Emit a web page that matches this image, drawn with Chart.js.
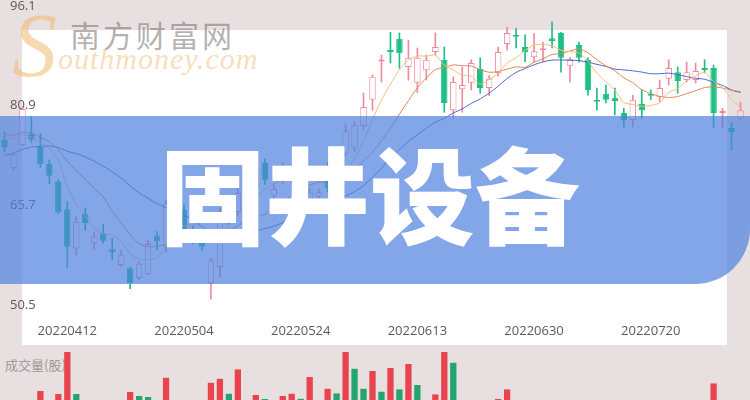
<!DOCTYPE html>
<html lang="zh-CN">
<head>
<meta charset="UTF-8" />
<title>固井设备</title>
<style>
  html, body { margin: 0; padding: 0; }
  body {
    width: 750px; height: 400px; overflow: hidden; position: relative;
    background: #e8dfe0;
    font-family: "Open Sans", "Noto Sans CJK SC", sans-serif;
  }
  #panel { position: absolute; left: 22px; top: 30px; width: 705px; height: 315px; background: #fff; }
  #logoS {
    position: absolute; left: 12px; top: -6px; font: italic 90px "Liberation Serif", serif;
    color: rgba(240, 186, 112, 0.55);
  }
  #logoCn {
    position: absolute; left: 70px; top: 19px; font: 30px/1 "Noto Sans CJK SC", sans-serif;
    letter-spacing: 3px; color: rgba(110, 100, 100, 0.5);
  }
  #logoEn {
    position: absolute; left: 58px; top: 44px; font: italic 30px/1 "Liberation Serif", serif;
    letter-spacing: 1px; color: rgba(244, 200, 140, 0.6);
  }
  #priceBox { position: absolute; left: 0; top: 0; }
  #volLabel {
    position: absolute; left: 5px; top: 358px; font: 13px/1 "Noto Sans CJK SC", sans-serif;
    color: #a09898;
  }
  #volBox { position: absolute; left: 0; top: 345px; }
  #banner {
    position: absolute; left: 0; top: 116px; width: 750px; height: 168px;
    background: rgba(78, 128, 222, 0.7);
    border-bottom-right-radius: 55px;
  }
  #title {
    position: absolute; left: 160px; top: 138px;
    font: 900 105px/1 "Noto Sans CJK SC", sans-serif;
    color: #fff; white-space: nowrap;
  }
</style>
<script src="https://cdn.jsdelivr.net/npm/chart.js"></script>
</head>
<body>
<div id="panel"></div>
<div id="logoS">S</div>
<div id="logoCn">南方财富网</div>
<div id="logoEn">outhmoney.com</div>
<div id="volLabel">成交量(股)</div>
<div id="priceBox"><canvas id="price" width="750" height="345"></canvas></div>
<div id="volBox"><canvas id="vol" width="750" height="55"></canvas></div>
<div id="banner"></div>
<div id="title">固井设备</div>

<script>
  const dates = [
    "20220331","20220401","20220404","20220406","20220407","20220408","20220411","20220412","20220413","20220414",
    "20220419","20220420","20220421","20220422","20220425","20220426","20220427","20220428","20220429","20220503",
    "20220504","20220505","20220506","20220510","20220511","20220512","20220513","20220516","20220517","20220518",
    "20220519","20220520","20220523","20220524","20220525","20220526","20220527","20220530","20220531","20220601",
    "20220602","20220606","20220607","20220608","20220609","20220610","20220613","20220614","20220615","20220616",
    "20220617","20220620","20220621","20220622","20220623","20220624","20220627","20220628","20220629","20220630",
    "20220704","20220705","20220706","20220707","20220708","20220711","20220712","20220713","20220714","20220715",
    "20220718","20220719","20220720","20220721","20220722","20220725","20220726","20220727","20220728","20220729",
    "20220801","20220802","20220803"
  ];
  const xTickDates = ["20220412", "20220504", "20220524", "20220613", "20220630", "20220720"];
  const priceTicks = [50.5, 65.7, 80.9, 96.1];

  const opens = [
    75.7, 71.4, 74.9, 76.6, 74.6, 72.0, 69.3, 65.1, 59.1, 64.4,
    60.0, 61.4, 59.0, 56.6, 56.1, 54.6, 55.2, 61.1, 59.4, 66.5,
    65.0, 61.7, 60.0, 53.8, 56.3, 65.0, 64.7, 66.8, 68.3, 72.2,
    67.2, 69.6, 70.0, 70.8, 66.5, 67.0, 71.5, 68.4, 73.6, 74.5,
    77.8, 81.8, 87.7, 89.35, 91.1, 86.8, 84.4, 86.3, 89.1, 87.9,
    80.2, 83.4, 84.4, 86.5, 83.6, 85.9, 90.3, 91.7, 89.85, 88.3,
    89.4, 91.2, 92.0, 87.0, 90.15, 87.9, 81.8, 82.7, 82.1, 79.8,
    78.7, 81.15, 82.7, 82.2, 85.0, 86.0, 84.8, 84.8, 86.65, 86.65,
    79.9, 77.5, 79.0
  ];
  const highs = [
    76.9, 73.7, 80.7, 79.2, 76.7, 72.6, 69.6, 66.3, 64.0, 65.3,
    61.5, 62.8, 60.7, 58.9, 56.3, 57.1, 60.4, 61.7, 66.5, 67.5,
    65.8, 62.5, 60.5, 57.6, 65.3, 66.3, 68.5, 69.3, 72.0, 72.8,
    68.8, 72.2, 71.8, 71.4, 68.3, 68.2, 72.2, 73.8, 78.1, 78.4,
    82.8, 85.6, 88.6, 92.1, 92.0, 90.9, 89.7, 88.6, 92.0, 89.85,
    85.3, 86.8, 87.9, 88.2, 85.5, 89.85, 92.9, 92.7, 91.7, 91.9,
    90.6, 93.7, 92.1, 88.3, 90.6, 88.2, 83.6, 84.05, 83.6, 80.5,
    82.5, 83.3, 83.3, 84.8, 87.9, 86.8, 87.55, 87.4, 87.9, 87.1,
    80.5, 78.3, 81.45
  ];
  const lows = [
    73.8, 71.1, 74.7, 75.2, 71.5, 69.0, 64.4, 56.2, 58.1, 61.9,
    59.0, 59.9, 57.4, 56.3, 53.0, 54.3, 55.1, 58.9, 58.6, 64.5,
    61.2, 59.8, 58.8, 51.4, 54.8, 62.8, 64.2, 66.2, 67.8, 68.9,
    66.4, 69.0, 69.3, 69.0, 65.8, 66.5, 67.8, 68.0, 73.2, 73.8,
    77.3, 80.2, 84.5, 87.4, 86.6, 84.8, 82.9, 84.8, 88.6, 79.9,
    79.0, 79.9, 83.3, 82.8, 82.4, 85.4, 89.4, 89.7, 87.6, 87.6,
    87.6, 89.7, 86.0, 84.5, 87.55, 82.5, 80.2, 81.3, 79.5, 77.65,
    77.65, 79.0, 81.8, 81.5, 84.05, 82.8, 84.5, 84.35, 85.9, 77.5,
    77.5, 74.1, 78.8
  ];
  const closes = [
    74.6, 73.4, 80.4, 75.7, 72.0, 70.2, 64.7, 59.4, 63.2, 63.0,
    60.9, 60.3, 58.5, 58.1, 53.8, 56.8, 59.8, 60.2, 66.0, 65.2,
    61.7, 60.3, 59.4, 57.3, 64.5, 63.6, 67.6, 68.5, 71.0, 69.6,
    68.2, 71.2, 71.0, 69.6, 67.7, 67.7, 68.4, 73.2, 77.0, 77.9,
    80.7, 85.3, 87.9, 89.1, 88.9, 88.2, 88.2, 87.9, 89.85, 81.3,
    84.5, 84.05, 87.4, 83.6, 85.0, 89.1, 92.0, 91.4, 89.1, 89.2,
    89.6, 90.75, 88.2, 88.0, 88.2, 83.3, 81.5, 81.8, 81.6, 78.7,
    81.8, 80.2, 82.4, 83.6, 86.65, 84.65, 86.0, 86.2, 86.35, 79.8,
    80.0, 76.9, 80.2
  ];
  // closes of the 19 sessions before the first candle, only used to seed the averages
  const histCloses = [68, 68.5, 69, 69.5, 69, 70, 70.5, 70.5, 73, 74, 75, 76, 77, 78, 77.5, 76.5, 77, 77.5, 76.4];

  const volumes = [
    70, 60, 90, 55, 145, 75, 130, 380, 130, 80,
    65, 70, 60, 85, 140, 120, 115, 70, 211, 90,
    85, 60, 75, 186, 206, 131, 253, 95, 125, 105,
    80, 120, 131, 106, 215, 90, 156, 133, 400, 256,
    156, 245, 141, 260, 153, 280, 175, 95, 128, 420,
    286, 90, 85, 80, 70, 105, 153, 75, 60, 55,
    50, 65, 85, 55, 60, 90, 55, 45, 50, 60,
    70, 50, 40, 55, 75, 60, 50, 55, 45, 183,
    90, 95, 70
  ];
  // 1 = red bar, 0 = green bar, as coloured in the volume panel
  const volRed = [
    0, 1, 1, 0, 1, 0, 1, 1, 0, 0,
    1, 0, 0, 1, 1, 0, 0, 0, 1, 0,
    0, 0, 0, 1, 1, 0, 1, 1, 1, 0,
    1, 1, 1, 0, 1, 1, 1, 0, 1, 0,
    0, 1, 0, 1, 0, 1, 0, 1, 1, 1,
    0, 1, 1, 0, 1, 1, 1, 0, 0, 1,
    1, 0, 0, 1, 0, 0, 0, 0, 0, 0,
    1, 0, 0, 1, 1, 0, 1, 1, 0, 1,
    1, 0, 1
  ];

  const PAGE_BG = "#e8dfe0";
  const UP = "#f08a9b";
  const DOWN = "#1dbf83";
  const VOL_UP = "#e8434f";
  const VOL_DOWN = "#25a56e";

  const isUp = (i) => closes[i] >= opens[i];

  function movingAverage(n) {
    const all = histCloses.concat(closes);
    const off = histCloses.length;
    return closes.map((_, i) => {
      const end = i + off;
      let s = 0;
      for (let k = end - n + 1; k <= end; k++) s += all[k];
      return +(s / n).toFixed(3);
    });
  }

  const bodies = opens.map((o, i) => {
    const c = closes[i];
    if (Math.abs(c - o) < 0.3) {
      const m = (o + c) / 2;
      return [m - 0.15, m + 0.15];
    }
    return [o, c];
  });
  const wicks = lows.map((l, i) => [l, highs[i]]);

  const maLine = (label, n, color) => ({
    type: "line",
    label: label,
    data: movingAverage(n),
    borderColor: color,
    borderWidth: 1,
    pointRadius: 0,
    tension: 0.25,
    order: 0,
  });

  new Chart(document.getElementById("price"), {
    type: "bar",
    data: {
      labels: dates,
      datasets: [
        {
          label: "wick",
          data: wicks,
          backgroundColor: (ctx) => (isUp(ctx.dataIndex) ? UP : DOWN),
          barThickness: 1,
          grouped: false,
          order: 2,
        },
        {
          label: "body",
          data: bodies,
          backgroundColor: (ctx) => {
            const i = ctx.dataIndex;
            if (!isUp(i)) return DOWN;
            return i < 2 || i > 80 ? PAGE_BG : "#ffffff";
          },
          borderColor: (ctx) => (isUp(ctx.dataIndex) ? UP : DOWN),
          borderWidth: 1,
          borderSkipped: false,
          barPercentage: 0.72,
          categoryPercentage: 1,
          grouped: false,
          order: 1,
        },
        maLine("MA5", 5, "#f2bf7c"),
        maLine("MA10", 10, "#dd8756"),
        maLine("MA20", 20, "#4b67cf"),
      ],
    },
    options: {
      responsive: false,
      animation: false,
      layout: { padding: { left: 0, right: 5, top: 6, bottom: 0 } },
      scales: {
        x: {
          grid: { display: false },
          border: { display: false },
          afterFit: (axis) => {
            axis.height = 40;
            axis.paddingLeft = 0;
            axis.paddingRight = 0;
          },
          ticks: {
            autoSkip: false,
            maxRotation: 0,
            padding: 10,
            color: "#5a5a5a",
            font: { family: "Open Sans", size: 13 },
            callback: function (value, index) {
              return xTickDates.includes(dates[index]) ? dates[index] : "";
            },
          },
        },
        y: {
          min: priceTicks[0],
          max: priceTicks[priceTicks.length - 1],
          grid: { display: false },
          border: { display: false },
          afterFit: (axis) => {
            axis.width = 0;
            axis.paddingTop = 0;
            axis.paddingBottom = 0;
          },
          afterBuildTicks: (axis) => { axis.ticks = priceTicks.map((v) => ({ value: v })); },
          ticks: {
            mirror: true,
            padding: 10,
            color: "#5a5a5a",
            font: { family: "Open Sans", size: 13 },
            callback: (v) => v.toFixed(1),
          },
        },
      },
      plugins: { legend: { display: false }, tooltip: { enabled: false } },
    },
  });

  new Chart(document.getElementById("vol"), {
    type: "bar",
    data: {
      labels: dates,
      datasets: [
        {
          label: "成交量",
          data: volumes,
          backgroundColor: volRed.map((r) => (r ? VOL_UP : VOL_DOWN)),
          barPercentage: 0.7,
          categoryPercentage: 1,
        },
      ],
    },
    options: {
      responsive: false,
      animation: false,
      layout: { padding: { left: 0, right: 5, top: 7, bottom: 0 } },
      scales: {
        x: { display: false },
        y: { display: false, min: 100, max: 340 },
      },
      plugins: { legend: { display: false }, tooltip: { enabled: false } },
    },
  });
</script>
</body>
</html>
